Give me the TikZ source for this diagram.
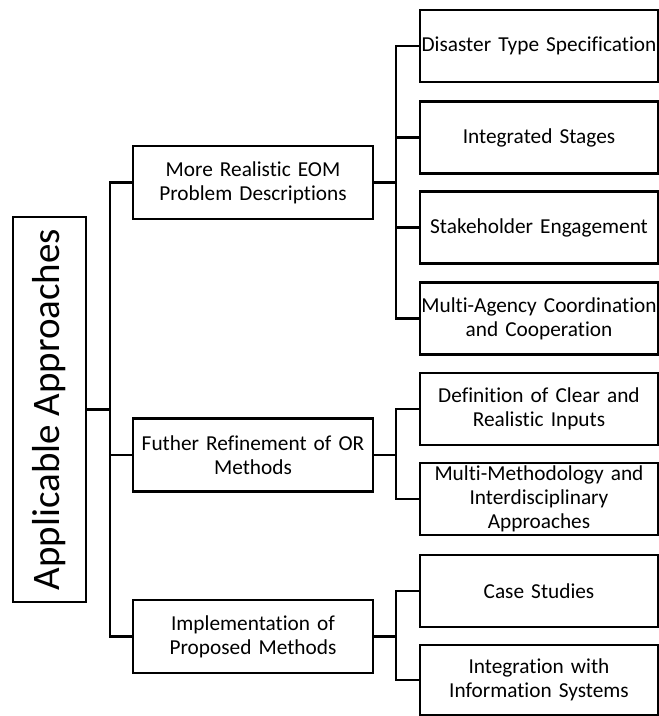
\documentclass[tikz,border=0pt]{standalone}
\usepackage{fontspec}
\setmainfont{Carlito}[RawFeature=-liga]
\begin{document}
\begin{tikzpicture}[x=1pt,y=-1pt,
  box/.style={draw=black,line width=2.6pt,rectangle,align=center,inner sep=1pt,
    font=\fontsize{21.3}{24}\selectfont},
  lone/.style={box,minimum width=240pt,minimum height=73pt,text width=236pt},
  ltwo/.style={box,minimum width=238pt,minimum height=72pt,text width=236pt},
  conn/.style={draw=black,line width=2.6pt}]
\useasboundingbox (0,0) rectangle (659,716);
\node[draw=black,line width=2.6pt,minimum width=73pt,minimum height=385pt,inner sep=0pt] (root) at (49.5,409.5) {};
\node[rotate=90,font=\fontsize{39}{42}\selectfont] (roottxt) at (root.center) {Applicable Approaches};
\node[lone] (a) at (253,182.5) {More Realistic EOM\\Problem Descriptions};
\node[lone] (b) at (253,455) {Futher Refinement of OR\\Methods};
\node[lone] (c) at (253,636.5) {Implementation of\\Proposed Methods};
\node[ltwo] (a1) at (539,46) {Disaster Type Specification};
\node[ltwo] (a2) at (539,137.5) {Integrated Stages};
\node[ltwo] (a3) at (539,227.5) {Stakeholder Engagement};
\node[ltwo] (a4) at (539,318.5) {Multi-Agency Coordination\\and Cooperation};
\node[ltwo] (b1) at (539,409) {Definition of Clear and\\Realistic Inputs};
\node[ltwo] (b2) at (539,499) {Multi-Methodology and\\Interdisciplinary\\Approaches};
\node[ltwo] (c1) at (539,591) {Case Studies};
\node[ltwo,minimum height=70pt] (c2) at (539,680) {Integration with\\Information Systems};
\coordinate (tx) at (110,0);
\coordinate (bx) at (396,0);
\draw[conn] (root.east) -- (root.east -| tx);
\draw[conn] (a.west) -- (a.west -| tx) -- (c.west -| tx) -- (c.west);
\draw[conn] (b.west) -- (b.west -| tx);
\draw[conn] (a.east) -- (a.east -| bx);
\draw[conn] (a1.west) -- (a1.west -| bx) -- (a4.west -| bx) -- (a4.west);
\draw[conn] (a2.west) -- (a2.west -| bx);
\draw[conn] (a3.west) -- (a3.west -| bx);
\draw[conn] (b.east) -- (b.east -| bx);
\draw[conn] (b1.west) -- (b1.west -| bx) -- (b2.west -| bx) -- (b2.west);
\draw[conn] (c.east) -- (c.east -| bx);
\draw[conn] (c1.west) -- (c1.west -| bx) -- (c2.west -| bx) -- (c2.west);
\end{tikzpicture}
\end{document}
